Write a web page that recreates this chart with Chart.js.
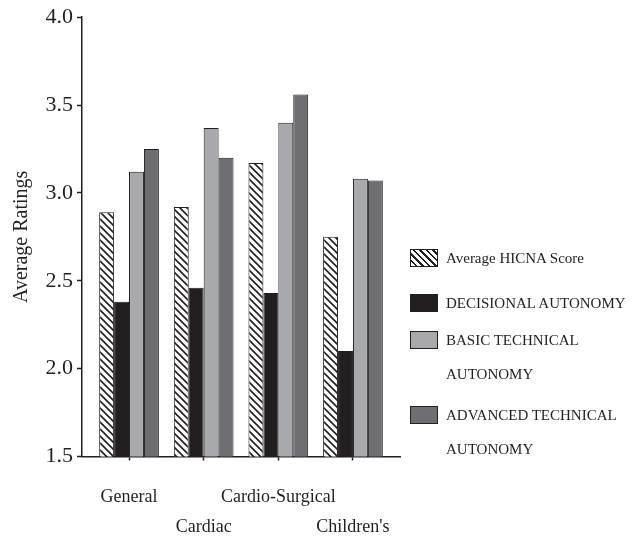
<!DOCTYPE html>
<html>
<head>
<meta charset="utf-8">
<script src="https://cdn.jsdelivr.net/npm/chart.js@4/dist/chart.umd.min.js"></script>
<style>
  html, body { margin: 0; padding: 0; background: #fff; }
  #wrap { position: relative; width: 642px; height: 536px; }
  #legend { position: absolute; left: 0; top: 0; }
  .item { position: absolute; left: 410px; display: flex; align-items: flex-start;
          font-family: "Liberation Serif", serif; font-size: 15px; color: #231f20; }
  .item .sw { width: 26px; height: 16px; border: 1px solid #231f20; margin-top: 8px; margin-right: 8px; }
  .item .txt { line-height: 34px; white-space: nowrap; }
</style>
</head>
<body>
<div id="wrap">
  <canvas id="chart" width="642" height="536"></canvas>
  <div id="legend"></div>
</div>
<script>
// valores
const categories = ['General', 'Cardiac', 'Cardio-Surgical', "Children's"];
const hicna = [2.89, 2.92, 3.17, 2.75];
const decisional = [2.38, 2.46, 2.43, 2.10];
const basicTech = [3.12, 3.37, 3.40, 3.08];
const advancedTech = [3.25, 3.20, 3.56, 3.07];
const seriesNames = [
  ['Average HICNA Score'],
  ['DECISIONAL AUTONOMY'],
  ['BASIC TECHNICAL', 'AUTONOMY'],
  ['ADVANCED TECHNICAL', 'AUTONOMY']
];
const yTicks = [1.5, 2.0, 2.5, 3.0, 3.5, 4.0];
// etiquetas escalonadas en dos filas
const xLabels = [['General'], ['', 'Cardiac'], ['Cardio-Surgical'], ['', "Children's"]];

const INK = '#231f20';

function makeHatch() {
  const c = document.createElement('canvas');
  c.width = 7; c.height = 7;
  const g = c.getContext('2d');
  g.fillStyle = '#fff';
  g.fillRect(0, 0, 7, 7);
  g.strokeStyle = INK;
  g.lineWidth = 1.6;
  g.beginPath();
  g.moveTo(-1, -1); g.lineTo(8, 8);
  g.moveTo(-1, 6); g.lineTo(1, 8);
  g.moveTo(6, -1); g.lineTo(8, 1);
  g.stroke();
  return g.createPattern(c, 'repeat');
}

function toPoints(arr) {
  return arr.map((v, i) => ({ x: i, y: v }));
}

const fills = [makeHatch(), INK, '#a7a9ac', '#6d6e71'];
const swatchCss = [
  'repeating-linear-gradient(45deg, #fff 0 3px, ' + INK + ' 3px 4.6px)',
  INK, '#a7a9ac', '#6d6e71'
];
const values = [hicna, decisional, basicTech, advancedTech];

const datasets = values.map((vals, i) => ({
  label: seriesNames[i].join(' '),
  data: toPoints(vals),
  backgroundColor: fills[i],
  borderColor: INK,
  borderWidth: 1,
  categoryPercentage: 0.8,
  barPercentage: 1.0
}));

const chart = new Chart(document.getElementById('chart'), {
  type: 'bar',
  data: { datasets },
  options: {
    responsive: false,
    animation: false,
    devicePixelRatio: 1,
    layout: { padding: { top: 16, right: 242, left: 0, bottom: 0 } },
    plugins: { legend: { display: false }, tooltip: { enabled: false } },
    scales: {
      x: {
        type: 'linear',
        offset: false,
        min: -0.63,
        max: 3.63,
        afterFit: s => { s.height = 536 - 456.5; },
        afterBuildTicks: s => { s.ticks = categories.map((_, i) => ({ value: i })); },
        ticks: {
          callback: v => xLabels[v] || '',
          font: { family: 'Liberation Serif', size: 18, lineHeight: 1.65 },
          color: INK,
          padding: 22,
          maxRotation: 0,
          autoSkip: false
        },
        grid: { offset: false, drawOnChartArea: false, tickLength: 4, tickColor: INK, tickWidth: 1.5 },
        border: { color: INK, width: 1.5 }
      },
      y: {
        min: 1.5,
        max: 4.0,
        afterFit: s => { s.width = 82; },
        afterBuildTicks: s => { s.ticks = yTicks.map(v => ({ value: v })); },
        ticks: {
          callback: v => v.toFixed(1),
          font: { family: 'Liberation Serif', size: 22 },
          color: INK,
          padding: 4
        },
        grid: { drawOnChartArea: false, tickLength: 5, tickColor: INK, tickWidth: 1.5 },
        border: { color: INK, width: 1.5 },
        title: {
          display: true,
          text: 'Average Ratings',
          font: { family: 'Liberation Serif', size: 20 },
          color: INK,
          padding: { top: 10, bottom: 0 }
        }
      }
    }
  }
});

// leyenda en HTML a partir de los datasets
const legendTops = [241, 286, 323, 398];
const legend = document.getElementById('legend');
chart.data.datasets.forEach((ds, i) => {
  const item = document.createElement('div');
  item.className = 'item';
  item.style.top = legendTops[i] + 'px';
  item.innerHTML = `<div class="sw" style="background:${swatchCss[i]}"></div>
    <div class="txt">${seriesNames[i].join('<br>')}</div>`;
  legend.appendChild(item);
});
</script>
</body>
</html>
